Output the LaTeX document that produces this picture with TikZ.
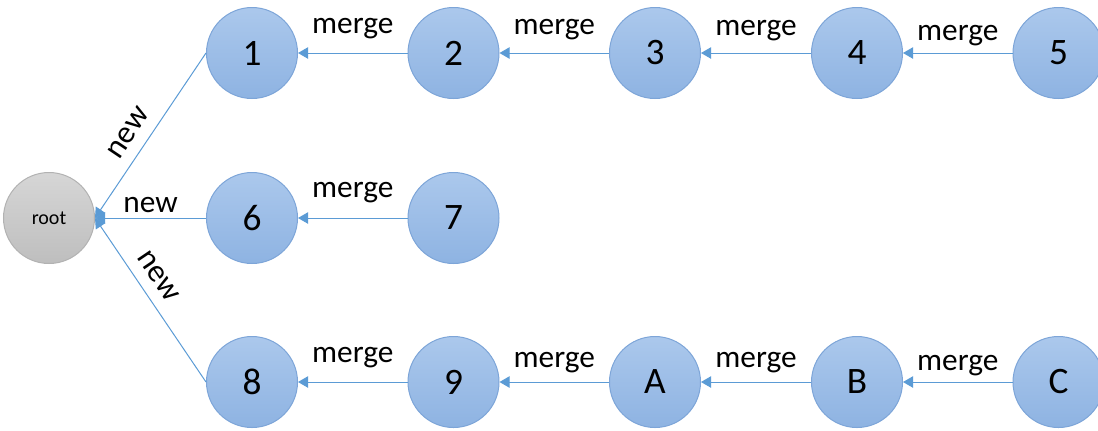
\documentclass[tikz,border=0pt]{standalone}
\usepackage{fontspec}
\setmainfont{Carlito}
\usetikzlibrary{arrows.meta}

\definecolor{nodetop}{HTML}{ABC8EC}
\definecolor{nodebot}{HTML}{8EB3E2}
\definecolor{nodeline}{HTML}{7DA5D8}
\definecolor{roottop}{HTML}{D6D6D6}
\definecolor{rootbot}{HTML}{BEBEBE}
\definecolor{rootline}{HTML}{B2B2B2}
\definecolor{edgeblue}{HTML}{5B9BD5}

\tikzset{
  commit/.style={circle, minimum size=68.25pt, inner sep=0pt, draw=nodeline,
    line width=0.75pt, top color=nodetop, bottom color=nodebot,
    font=\fontsize{28}{32}\selectfont},
  rootnode/.style={circle, minimum size=68.25pt, inner sep=0pt, draw=rootline,
    line width=0.75pt, top color=roottop, bottom color=rootbot,
    font=\fontsize{15}{18}\selectfont},
  link/.style={draw=edgeblue, line width=0.75pt,
    -{Triangle[length=7.5pt,width=8.5pt,fill=edgeblue]}},
  lbl/.style={font=\fontsize{23.5}{28}\selectfont, inner sep=0pt, anchor=base},
  nlbl/.style={font=\fontsize{24}{28}\selectfont, inner sep=0pt},
}

\begin{document}
\begin{tikzpicture}[x=0.75pt, y=-0.75pt]
\useasboundingbox (0,0) rectangle (1098,430);

% root of the tree
\node[rootnode] (root) at (49,218) {root};

% first branch
\node[commit] (n1) at (252,53) {1};
\node[commit] (n2) at (453.5,53) {2};
\node[commit] (n3) at (655,53) {3};
\node[commit] (n4) at (857,53) {4};
\node[commit] (n5) at (1058.5,53) {5};

% second branch
\node[commit] (n6) at (252,218) {6};
\node[commit] (n7) at (453.5,218) {7};

% third branch
\node[commit] (n8) at (252,382) {8};
\node[commit] (n9) at (453.5,382) {9};
\node[commit] (nA) at (655,382) {A};
\node[commit] (nB) at (857,382) {B};
\node[commit] (nC) at (1058.5,382) {C};

% branches start from root
\draw[link] (n1.west) -- node[nlbl, sloped, pos=0.55, above=8.5pt] {new} (root.east);
\draw[link] (n6) -- node[lbl, midway, yshift=4.5pt] {new} (root.east);
\draw[link] (n8.west) -- node[nlbl, sloped, pos=0.58, above=8.5pt] {new} (root.east);

% merges along each branch
\draw[link] (n2) -- node[lbl, midway, yshift=15pt] {merge} (n1);
\draw[link] (n3) -- node[lbl, midway, yshift=14.25pt] {merge} (n2);
\draw[link] (n4) -- node[lbl, midway, yshift=13.5pt] {merge} (n3);
\draw[link] (n5) -- node[lbl, midway, yshift=9.75pt] {merge} (n4);

\draw[link] (n7) -- node[lbl, midway, yshift=15.75pt] {merge} (n6);

\draw[link] (n9) -- node[lbl, midway, yshift=15pt] {merge} (n8);
\draw[link] (nA) -- node[lbl, midway, yshift=11.25pt] {merge} (n9);
\draw[link] (nB) -- node[lbl, midway, yshift=11.25pt] {merge} (nA);
\draw[link] (nC) -- node[lbl, midway, yshift=9pt] {merge} (nB);
\end{tikzpicture}
\end{document}
